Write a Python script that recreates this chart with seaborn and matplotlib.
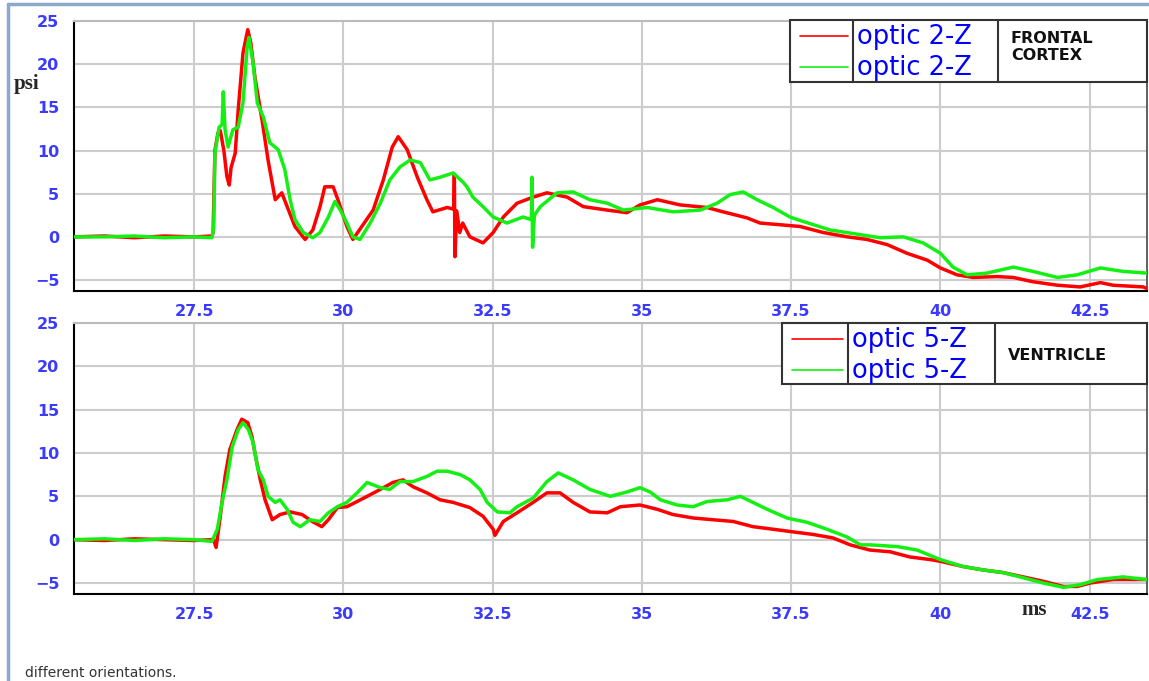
# Pressure traces (psi vs ms) for two sensor locations
import pandas as pd
import matplotlib.pyplot as plt
import seaborn as sns
from matplotlib.patches import Rectangle
from matplotlib.lines import Line2D

# Data
frontal_red_t = [25.5, 26.0, 26.5, 27.0, 27.5, 27.80, 27.82, 27.85, 27.90, 27.94, 28.00, 28.05, 28.09, 28.12,
                 28.19, 28.24, 28.32, 28.40, 28.45, 28.52, 28.64, 28.74, 28.86, 28.97, 29.06, 29.19, 29.36,
                 29.49, 29.61, 29.69, 29.83, 29.91, 30.06, 30.16, 30.31, 30.50, 30.67, 30.82, 30.92, 31.07,
                 31.24, 31.40, 31.50, 31.74, 31.85, 31.86, 31.87, 31.90, 31.95, 32.00, 32.12, 32.34, 32.51,
                 32.68, 32.91, 33.18, 33.41, 33.75, 34.02, 34.42, 34.75, 34.97, 35.26, 35.64, 36.09, 36.36,
                 36.76, 36.98, 37.32, 37.65, 38.04, 38.44, 38.77, 39.11, 39.44, 39.78, 40.00, 40.28, 40.55,
                 40.95, 41.22, 41.55, 41.96, 42.34, 42.68, 42.89, 43.40, 43.46]
frontal_red_p = [0, 0.1, -0.1, 0.1, 0, 0.1, 0.5, 10, 12, 12.3, 10, 7, 6, 8,
                 9.7, 14.7, 21.3, 24, 22.5, 18.5, 13.5, 8.9, 4.3, 5.1, 3.5, 1.2, -0.3,
                 0.8, 3.5, 5.8, 5.8, 4.3, 1.2, -0.3, 1.2, 3.1, 6.6, 10.4, 11.6, 10.1,
                 6.9, 4.3, 2.9, 3.4, 3.2, 7.2, -2.3, 3.0, 0.5, 1.6, 0, -0.7, 0.5,
                 2.3, 3.9, 4.6, 5.1, 4.6, 3.5, 3.1, 2.8, 3.7, 4.3, 3.7, 3.4, 2.9,
                 2.2, 1.6, 1.4, 1.2, 0.5, 0, -0.3, -0.9, -1.9, -2.7, -3.6, -4.4, -4.7,
                 -4.6, -4.7, -5.2, -5.6, -5.8, -5.3, -5.6, -5.8, -6.0]

frontal_green_t = [25.5, 26.0, 26.5, 27.0, 27.5, 27.80, 27.83, 27.85, 27.92, 27.97, 27.99, 28.02, 28.07,
                   28.15, 28.24, 28.32, 28.39, 28.42, 28.49, 28.56, 28.66, 28.77, 28.91, 29.02, 29.11,
                   29.19, 29.33, 29.49, 29.61, 29.75, 29.86, 29.95, 30.06, 30.16, 30.28, 30.45, 30.62,
                   30.78, 30.95, 31.12, 31.29, 31.45, 31.62, 31.84, 32.01, 32.07, 32.17, 32.34, 32.51,
                   32.74, 33.01, 33.15, 33.16, 33.17, 33.20, 33.30, 33.58, 33.85, 34.13, 34.42, 34.69,
                   35.09, 35.52, 35.98, 36.26, 36.48, 36.70, 36.93, 37.20, 37.48, 37.65, 38.15, 38.71,
                   38.99, 39.38, 39.71, 40.00, 40.21, 40.45, 40.78, 41.22, 41.55, 41.96, 42.29, 42.68,
                   43.06, 43.46]
frontal_green_p = [0, 0, 0.1, -0.1, 0, -0.1, 1, 9.7, 12.7, 13, 16.8, 12.4, 10.4,
                   12.4, 12.7, 15.5, 22, 23.1, 20.1, 15.5, 13.9, 10.9, 10.1, 7.8, 4.3,
                   2.0, 0.5, -0.1, 0.5, 2.3, 4.1, 3.1, 1.6, 0, -0.3, 1.6, 3.9,
                   6.6, 8.1, 8.9, 8.6, 6.6, 6.9, 7.4, 6.3, 5.8, 4.6, 3.5, 2.3,
                   1.6, 2.3, 2.0, 6.9, -1.2, 2.5, 3.5, 5.1, 5.2, 4.3, 3.9, 3.1,
                   3.4, 2.9, 3.1, 3.9, 4.9, 5.2, 4.3, 3.4, 2.3, 1.9, 0.8, 0.2,
                   -0.1, 0, -0.7, -1.9, -3.5, -4.4, -4.2, -3.5, -4.0, -4.7, -4.4, -3.6,
                   -4.0, -4.2]

ventricle_red_t = [25.5, 26.0, 26.5, 27.0, 27.5, 27.80, 27.82, 27.87, 27.94, 28.02, 28.10, 28.22, 28.30,
                   28.40, 28.47, 28.52, 28.61, 28.69, 28.81, 28.94, 29.11, 29.31, 29.48, 29.64, 29.75,
                   29.90, 30.06, 30.23, 30.40, 30.62, 30.83, 31.00, 31.17, 31.40, 31.62, 31.84, 32.12,
                   32.34, 32.51, 32.54, 32.68, 32.91, 33.18, 33.41, 33.63, 33.85, 34.13, 34.42, 34.64,
                   34.97, 35.26, 35.52, 35.86, 36.19, 36.53, 36.86, 37.20, 37.53, 37.87, 38.20, 38.49,
                   38.82, 39.16, 39.49, 39.83, 40.00, 40.38, 40.72, 41.05, 41.39, 41.72, 42.06, 42.29,
                   42.51, 42.89, 43.46]
ventricle_red_p = [0, -0.1, 0.1, 0, -0.1, 0, 0.1, -0.9, 2.7, 7.3, 10.4, 12.7, 13.9,
                   13.5, 11.9, 10, 6.9, 4.6, 2.3, 2.9, 3.2, 2.9, 2.1, 1.5, 2.3,
                   3.7, 3.8, 4.4, 5.0, 5.8, 6.6, 6.9, 6.1, 5.4, 4.6, 4.3, 3.7,
                   2.7, 1.2, 0.5, 2.1, 3.1, 4.3, 5.4, 5.4, 4.3, 3.2, 3.1, 3.8,
                   4.0, 3.5, 2.9, 2.5, 2.3, 2.1, 1.5, 1.2, 0.9, 0.6, 0.2, -0.6,
                   -1.2, -1.4, -2.0, -2.3, -2.5, -3.1, -3.5, -3.8, -4.3, -4.8, -5.4, -5.4,
                   -5.0, -4.6, -4.6]

ventricle_green_t = [25.5, 26.0, 26.5, 27.0, 27.5, 27.80, 27.89, 27.97, 28.05, 28.14, 28.24, 28.32, 28.41,
                     28.49, 28.57, 28.66, 28.74, 28.86, 28.94, 29.06, 29.16, 29.28, 29.44, 29.61, 29.75,
                     29.90, 30.06, 30.23, 30.40, 30.62, 30.78, 30.95, 31.17, 31.40, 31.57, 31.74, 31.96,
                     32.12, 32.29, 32.41, 32.58, 32.79, 32.91, 33.18, 33.41, 33.60, 33.85, 34.13, 34.47,
                     34.75, 34.97, 35.14, 35.31, 35.59, 35.86, 36.09, 36.43, 36.65, 36.86, 37.10, 37.43,
                     37.77, 38.10, 38.44, 38.66, 38.82, 39.28, 39.61, 40.00, 40.38, 40.72, 41.05, 41.39,
                     41.72, 42.06, 42.34, 42.63, 43.06, 43.46]
ventricle_green_p = [0, 0.1, -0.1, 0.1, 0, -0.2, 1.2, 4.3, 6.9, 10.7, 12.7, 13.5, 12.7,
                     11.2, 8.1, 6.9, 5.0, 4.3, 4.6, 3.5, 2.0, 1.5, 2.3, 2.1, 3.1,
                     3.8, 4.3, 5.4, 6.6, 6.0, 5.8, 6.7, 6.7, 7.3, 7.9, 7.9, 7.5,
                     6.9, 5.8, 4.3, 3.2, 3.1, 3.8, 4.8, 6.7, 7.7, 6.9, 5.8, 5.0,
                     5.5, 6.0, 5.5, 4.6, 4.0, 3.8, 4.4, 4.6, 5.0, 4.3, 3.5, 2.5,
                     2.0, 1.2, 0.3, -0.6, -0.6, -0.8, -1.2, -2.3, -3.1, -3.5, -3.8, -4.4,
                     -5.0, -5.5, -5.2, -4.6, -4.3, -4.6]

x_ticks = [27.5, 30, 32.5, 35, 37.5, 40, 42.5]
x_tick_labels = ["27.5", "30", "32.5", "35", "37.5", "40", "42.5"]
y_ticks = [-5, 0, 5, 10, 15, 20, 25]

W, H = 1149, 681
def fx(px):
    return px / W
def fy(py):
    return 1 - py / H

sns.set_style("white")
fig = plt.figure(figsize=(W / 100, H / 100), dpi=100)

tick_blue = "#3b3bff"
red = "#ff0000"
green = "#14f014"

panels = [
    (21, 291, frontal_red_t, frontal_red_p, frontal_green_t, frontal_green_p),
    (323, 594, ventricle_red_t, ventricle_red_p, ventricle_green_t, ventricle_green_p),
]
for top, bottom, rt, rp, gt, gp in panels:
    ax = fig.add_axes([fx(74), fy(bottom), fx(1147) - fx(74), fy(top) - fy(bottom)])
    df_r = pd.DataFrame({"t": rt, "p": rp})
    df_g = pd.DataFrame({"t": gt, "p": gp})
    sns.lineplot(data=df_r, x="t", y="p", color=red, lw=2.5, sort=False, estimator=None, ax=ax, zorder=3)
    sns.lineplot(data=df_g, x="t", y="p", color=green, lw=2.5, sort=False, estimator=None, ax=ax, zorder=4)
    ax.set_xlim(25.49, 43.46)
    ax.set_ylim(-6.27, 25)
    ax.set_xlabel("")
    ax.set_ylabel("")
    ax.set_xticks(x_ticks)
    ax.set_xticklabels(x_tick_labels)
    ax.set_xticks([26.25 + 2.5 * i for i in range(7)], minor=True)
    ax.set_yticks(y_ticks)
    ax.set_yticks([-2.5 + 5 * i for i in range(6)], minor=True)
    ax.grid(True, which="major", color="#cccccc", lw=1.5, zorder=0)
    ax.tick_params(axis="both", which="major", direction="inout", length=17, width=1.3,
                   color="black", labelcolor=tick_blue, labelsize=11.5)
    ax.tick_params(axis="both", which="minor", direction="inout", length=10, width=1.3, color="black")
    ax.tick_params(axis="y", pad=2)
    ax.tick_params(axis="x", pad=1)
    for lab in ax.get_xticklabels() + ax.get_yticklabels():
        lab.set_fontweight("bold")
    ax.spines["left"].set_color("black")
    ax.spines["left"].set_linewidth(1.5)
    ax.spines["bottom"].set_color("black")
    ax.spines["bottom"].set_linewidth(1.5)
    ax.spines["right"].set_color("#444444")
    ax.spines["right"].set_linewidth(1.2)
    ax.spines["top"].set_color("#bbbbbb")
    ax.spines["top"].set_linewidth(1.5)

# legend boxes drawn like the original software
def legend_box(x0, x1, x2, x3, y0, y1, ya, yb, label, region, region_y):
    tf = fig.transFigure
    fig.add_artist(Rectangle((fx(x0), fy(y1)), fx(x3) - fx(x0), fy(y0) - fy(y1), transform=tf,
                             facecolor="white", edgecolor="#333333", lw=1.5, zorder=10))
    for xd in (x1, x2):
        fig.add_artist(Line2D([fx(xd), fx(xd)], [fy(y0), fy(y1)], transform=tf, color="#333333", lw=1.5, zorder=11))
    fig.add_artist(Line2D([fx(x0 + 10), fx(x1 - 5)], [fy(ya), fy(ya)], transform=tf, color=red, lw=1.2, zorder=11))
    fig.add_artist(Line2D([fx(x0 + 10), fx(x1 - 5)], [fy(yb), fy(yb)], transform=tf, color=green, lw=1.2, zorder=11))
    for yy in (ya, yb):
        fig.text(fx(x1 + 4), fy(yy + 1), label, color="#0000ff", fontsize=18.5, va="center", ha="left", zorder=12)
    fig.text(fx(x2 + 13), fy(region_y), region, color="#111111", fontsize=11.5, fontweight="bold",
             va="center", ha="left", linespacing=1.15, zorder=12)

legend_box(790, 853, 998, 1147, 20, 82, 36, 67, "optic 2-Z", "FRONTAL\nCORTEX", 47)
legend_box(782, 848, 995, 1147, 323, 384, 339, 370, "optic 5-Z", "VENTRICLE", 355)

fig.text(fx(14), fy(84), "psi", family="Liberation Serif", fontweight="bold", fontsize=15, va="center")
fig.text(fx(1021), fy(610), "ms", family="Liberation Serif", fontweight="bold", fontsize=15, va="center")

# outer frame and caption at the bottom edge
frame = "#8ea8cc"
fig.add_artist(Line2D([fx(8), fx(8)], [fy(4), 0], transform=fig.transFigure, color=frame, lw=2.5))
fig.add_artist(Line2D([fx(8), 1], [fy(4), fy(4)], transform=fig.transFigure, color=frame, lw=2.5))
fig.text(fx(25), fy(680), "different orientations.", fontsize=10, color="#333333", va="bottom")

fig.savefig("out.png", dpi=100)
